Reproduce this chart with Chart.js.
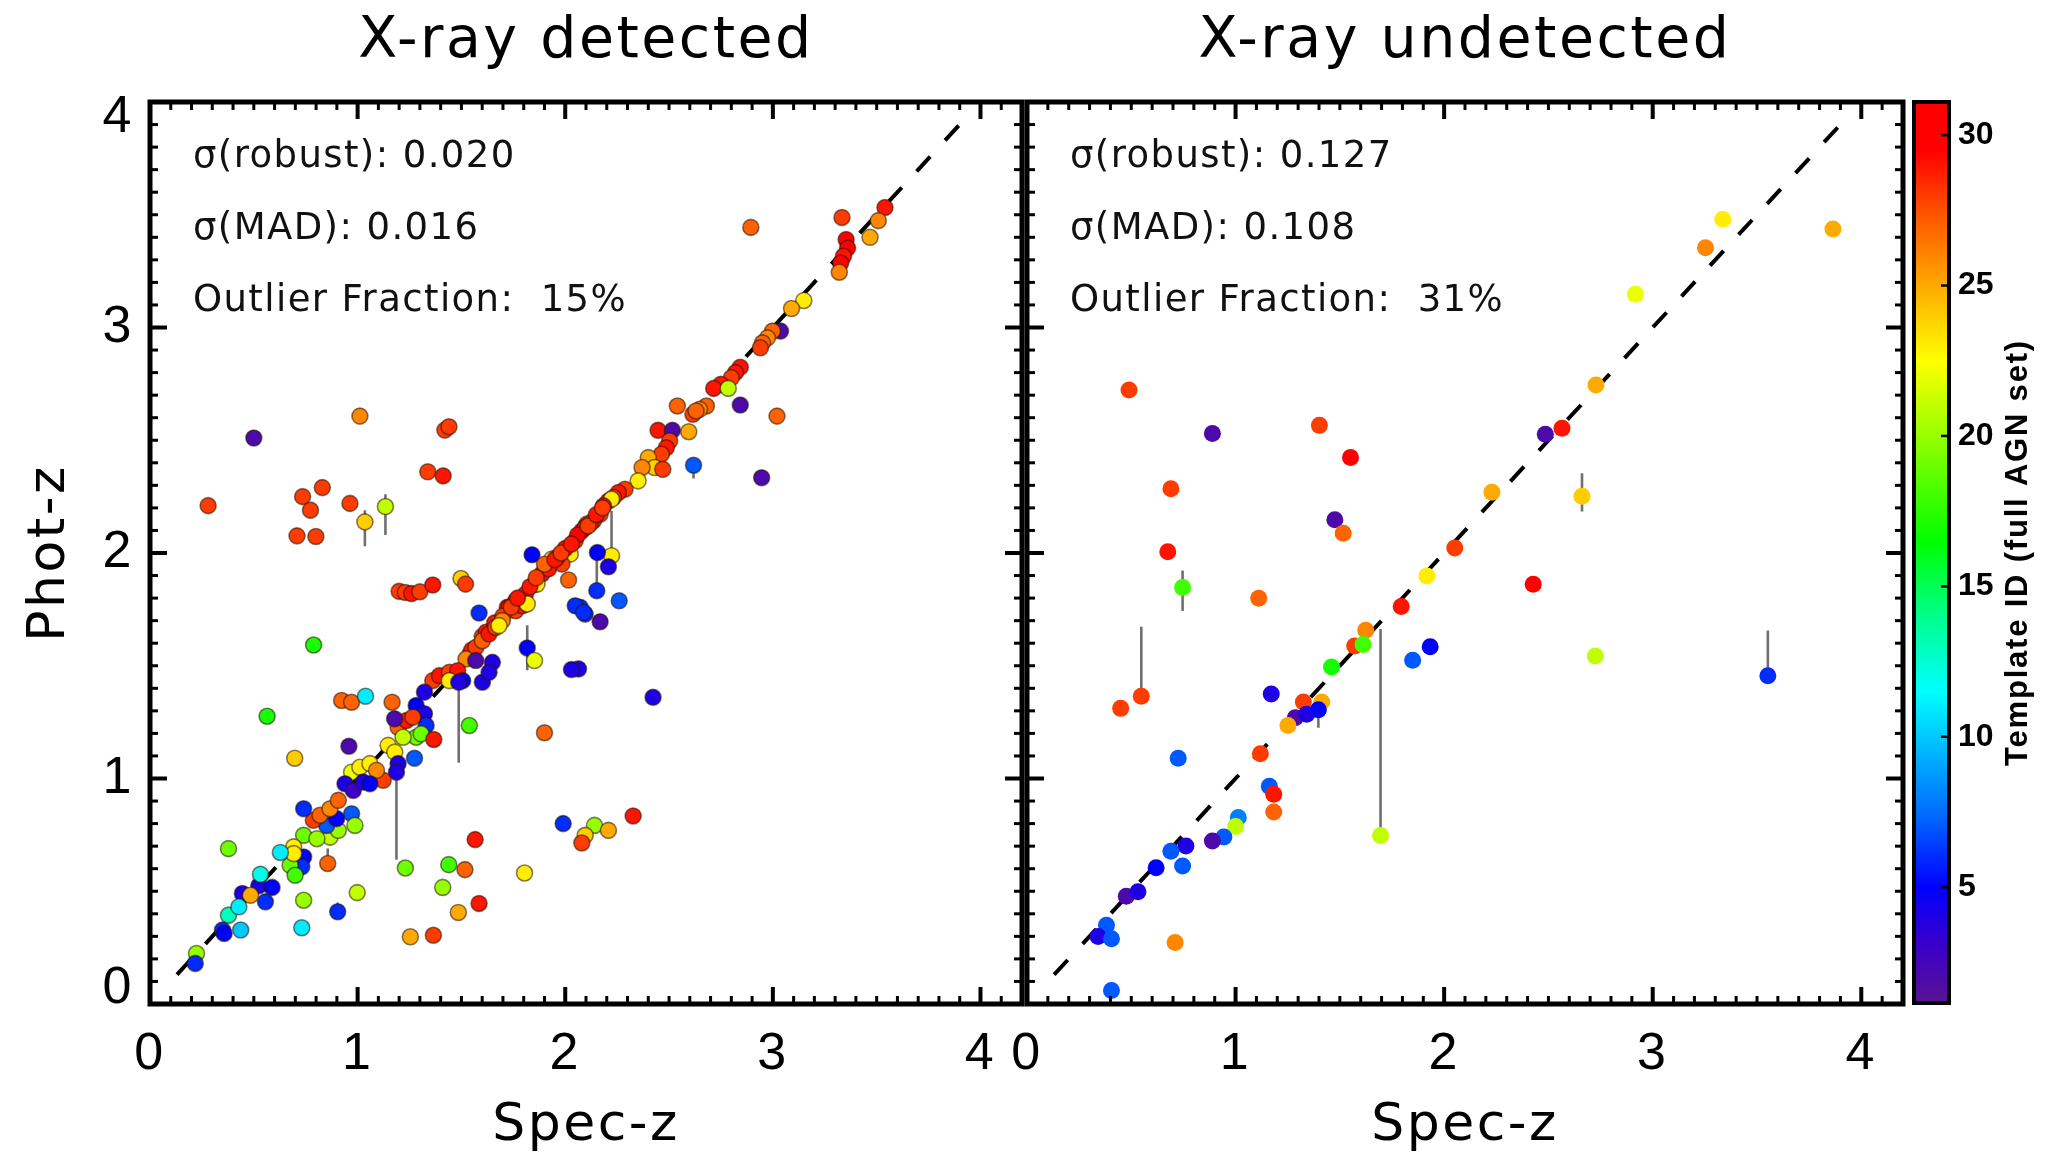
<!DOCTYPE html>
<html><head><meta charset="utf-8">
<script src="https://cdn.jsdelivr.net/npm/chart.js@4.4.0/dist/chart.umd.min.js"></script>
<style>
html,body{margin:0;padding:0;background:#fff;}
#wrap{position:relative;width:2047px;height:1152px;overflow:hidden;background:#fff;}
canvas{position:absolute;top:0;}
</style></head><body>
<div id="wrap">
<canvas id="c1" width="1045" height="1152" style="left:0px"></canvas>
<canvas id="c2" width="1072" height="1152" style="left:975px"></canvas>
<canvas id="c3" width="147" height="1152" style="left:1900px"></canvas>
</div>
<script>
// ---------------- DATA ----------------
const panelTitles = ['X-ray detected', 'X-ray undetected'];
const xTickVals = [0, 1, 2, 3, 4];
const yTickVals = [0, 1, 2, 3, 4];
const cbTickVals = [5, 10, 15, 20, 25, 30];
const identityLine = [0.13, 3.9];

const statsDet = ['σ(robust): 0.020', 'σ(MAD): 0.016', 'Outlier Fraction:  15%'];
const statsUnd = ['σ(robust): 0.127', 'σ(MAD): 0.108', 'Outlier Fraction:  31%'];

// X-ray detected: spec-z, phot-z, template ID
const specZDet = [
 0.28,0.50,0.735,0.83,0.773,0.963,0.708,0.799,1.011,1.035,1.134,1.42,1.44,1.338,1.412,
 1.20,1.23,1.26,1.30,1.362,1.498,1.52,1.84,1.585,2.016,
 2.894,3.333,3.353,3.36,3.34,3.327,3.32,3.54,3.508,3.468,3.149,3.09,3.037,
 2.998,2.974,2.95,2.94,2.843,2.82,2.80,2.75,2.715,2.785,2.843,3.02,2.54,
 2.68,2.647,2.615,2.63,2.447,2.516,2.595,2.503,2.487,2.463,2.40,2.43,2.47,2.37,
 2.618,2.946,2.351,2.288,2.256,2.232,2.208,2.223,2.184,2.168,2.136,2.104,2.08,
 2.223,2.155,2.208,2.152,2.26,2.096,2.072,2.168,2.064,2.423,2.327,2.141,2.208,2.096,2.08,
 2.096,2.048,2.024,1.984,1.936,1.888,1.857,1.864,1.809,1.809,1.761,1.721,
 2.0,1.96,1.92,1.90,2.06,2.12,2.048,2.088,1.729,1.761,1.793,1.817,
 1.54,1.55,1.60,1.62,1.66,1.70,1.74,1.77,1.83,1.86,1.95,1.98,2.03,2.11,2.15,2.18,
 1.57,1.601,1.633,1.665,1.697,1.681,1.522,1.569,1.601,1.649,1.633,
 1.362,1.394,1.442,1.482,1.442,1.506,1.487,1.322,1.282,1.322,1.33,1.282,1.306,
 1.195,1.235,1.266,1.178,1.219,1.147,1.179,1.195,1.187,1.123,
 0.971,1.011,1.059,1.091,0.939,0.979,1.027,1.059,0.971,0.867,0.907,0.851,0.899,
 0.787,0.819,0.867,0.907,0.74,0.804,0.74,0.731,0.675,0.699,0.692,0.692,0.628,
 0.445,0.524,0.588,0.556,0.484,0.532,0.378,0.428,0.437,0.349,0.357,0.224,0.218,
 0.788,0.564,0.697,0.958,0.923,0.971,1.038,1.166,1.538,1.90,2.03,1.817,1.852,1.99,
 1.566,1.439,1.517,1.41,1.804,1.585,1.485,1.254,1.365,1.23,0.998,0.74,0.904,0.731,
 0.378,0.856,0.74,1.274,1.367,0.987
];
const photZDet = [
 2.21,2.51,2.25,2.29,2.19,2.22,2.076,2.073,2.607,2.138,2.206,2.545,2.56,2.36,2.342,
 1.83,1.825,1.82,1.828,1.858,1.887,1.862,1.992,1.734,1.88,
 3.444,3.488,3.39,3.352,3.316,3.286,3.245,3.532,3.474,3.40,3.12,3.084,2.984,
 2.984,2.954,2.932,2.91,2.824,2.80,2.777,2.748,2.73,2.73,2.656,2.607,2.652,
 2.652,2.637,2.615,2.63,2.544,2.544,2.538,2.497,2.467,2.438,2.423,2.379,2.371,2.379,
 2.389,2.334,2.32,2.283,2.268,2.246,2.231,2.239,2.209,2.172,2.143,2.128,2.098,
 1.988,2.002,1.939,1.833,1.788,1.729,1.759,1.695,1.486,1.36,0.834,0.792,0.77,0.748,0.714,
 2.113,2.054,1.995,1.951,1.973,1.907,1.862,1.862,1.818,1.774,1.788,1.759,
 2.02,1.98,1.93,1.95,2.08,2.13,1.766,1.737,1.759,1.744,1.766,1.774,
 1.55,1.57,1.63,1.65,1.69,1.72,1.76,1.80,1.85,1.89,1.97,2.0,2.04,2.12,2.17,2.2,
 1.582,1.611,1.641,1.67,1.70,1.678,1.53,1.523,1.427,1.515,1.471,
 1.434,1.456,1.471,1.478,1.434,1.434,1.427,1.383,1.324,1.287,1.235,1.183,1.198,
 1.227,1.257,1.272,1.265,1.183,1.147,1.117,1.066,1.028,0.992,
 1.028,1.05,1.066,1.036,0.977,0.947,0.984,0.977,0.844,0.74,0.77,0.792,0.822,
 0.815,0.837,0.866,0.903,0.748,0.733,0.652,0.608,0.615,0.571,0.697,0.667,0.672,
 0.49,0.524,0.517,0.453,0.482,0.575,0.394,0.431,0.328,0.328,0.313,0.224,0.18,
 1.592,1.276,1.09,1.143,1.346,1.338,1.365,1.338,1.235,1.203,1.483,1.579,1.523,0.80,
 0.729,0.618,0.596,0.517,0.581,0.446,0.406,0.298,0.305,0.603,0.494,0.46,0.409,0.338,
 0.689,0.623,0.866,1.09,1.173,0.792
];
const tmplDet = [
 28,2,28,28,28,28,28,28,26,24,21,28,28,28,29,
 28,28,29,28,29,24,28,5,6,27,
 27,28,30,30,29,30,26,29,26,25,23,25,2,
 27,26,27,28,29,29,28,29,29,21,2,27,27,
 27,26,28,27,29,2,25,28,29,28,25,24,28,26,
 7,2,23,28,29,28,29,23,29,28,29,28,29,
 23,5,4,6,7,6,6,2,4,4,29,20,25,24,28,
 29,28,23,28,23,29,28,23,29,23,28,29,
 29,28,29,27,30,28,6,6,29,28,29,23,
 28,29,28,29,29,28,28,29,29,28,29,28,29,28,29,28,
 28,27,29,28,26,23,26,2,4,4,4,
 28,29,28,29,23,5,4,4,5,4,6,19,19,
 27,29,28,2,21,23,23,4,4,28,
 22,23,23,26,4,3,4,5,7,21,20,7,5,
 28,27,26,27,19,20,5,6,19,18,23,23,11,
 4,4,5,6,25,12,13,11,10,6,5,20,6,
 17,17,24,2,27,27,11,27,18,27,4,5,22,6,
 29,18,27,20,23,29,25,25,28,19,21,20,6,11,
 19,27,6,7,29,20
];
// error bars (detected): x, low, high
const errXDet  = [1.035, 1.134, 1.187, 1.487, 1.817, 2.152, 2.223, 0.856, 2.618, 0.904];
const errLoDet = [2.03,  2.08,  0.64,  1.07,  1.48,  1.833, 1.996, 0.623, 2.33,  0.409];
const errHiDet = [2.19,  2.26,  1.028, 1.427, 1.68,  1.98,  2.187, 0.69,  2.389, 0.45];

// X-ray undetected
const specZUnd = [
 0.489,0.889,1.402,1.551,0.69,1.476,1.516,0.675,0.746,1.111,2.051,1.917,1.794,1.624,1.571,1.611,
 1.46,1.849,1.933,0.548,0.449,1.171,1.325,1.413,1.286,1.341,1.397,1.251,1.119,0.725,1.162,1.183,
 1.183,1.013,1.0,0.944,0.889,0.762,0.69,0.746,0.619,0.476,0.532,0.381,0.341,0.405,0.71,0.405,
 1.695,3.336,3.253,3.864,2.917,2.728,2.485,2.565,2.229,2.661,2.427,2.725,3.552
];
const photZUnd = [
 2.723,2.53,2.566,2.424,2.285,2.147,2.088,2.006,1.847,1.799,2.022,1.898,1.763,1.657,1.588,1.594,
 1.494,1.524,1.584,1.365,1.311,1.375,1.339,1.339,1.269,1.285,1.305,1.235,1.11,1.09,0.966,0.93,
 0.851,0.827,0.787,0.741,0.723,0.701,0.677,0.612,0.604,0.478,0.498,0.349,0.299,0.289,0.273,0.06,
 0.747,3.48,3.354,3.437,3.148,2.745,2.527,2.553,2.269,2.252,1.861,1.543,1.456
];
const tmplUnd = [
 28,2,28,30,28,2,27,29,18,27,28,23,29,26,28,18,
 17,7,5,28,28,4,28,25,2,4,5,25,28,7,7,29,
 27,8,21,7,2,4,7,7,5,2,4,7,4,7,26,7,
 21,23,26,25,22,25,2,29,25,24,30,21,6
];
const errXUnd  = [0.746, 0.548, 1.397, 1.695, 2.661, 3.552];
const errLoUnd = [1.743, 1.365, 1.225, 0.747, 2.184, 1.456];
const errHiUnd = [1.922, 1.673, 1.305, 1.663, 2.354, 1.656];

// colour scale of the template ID (rainbow)
const cbRange = [1.15, 31.1];
const colorStops = [
 [1.0, [92, 20, 140]], [3.0, [60, 0, 200]], [5.0, [0, 0, 255]], [7.5, [0, 110, 255]],
 [10.0, [0, 200, 255]], [11.5, [0, 255, 255]], [14.0, [0, 255, 140]], [16.5, [0, 255, 0]],
 [20.0, [150, 255, 0]], [22.5, [255, 255, 0]], [25.0, [255, 170, 0]], [27.5, [255, 80, 0]],
 [29.5, [255, 0, 0]], [31.5, [255, 0, 0]]
];

// ---------------- helpers ----------------
function tmplRGB(v) {
  if (v <= colorStops[0][0]) return colorStops[0][1];
  for (let i = 1; i < colorStops.length; i++) {
    const [v1, c1] = colorStops[i];
    const [v0, c0] = colorStops[i - 1];
    if (v <= v1) {
      const t = (v - v0) / (v1 - v0);
      return c0.map((c, k) => Math.round(c + (c1[k] - c) * t));
    }
  }
  return colorStops[colorStops.length - 1][1];
}
function tmplColor(v) { const c = tmplRGB(v); return `rgb(${c[0]},${c[1]},${c[2]})`; }

const SANS = '"DejaVu Sans", sans-serif';
const NARROW = '"Liberation Sans Narrow", "Liberation Sans", sans-serif';
const XMAX = 4.2, YMAX = 4;

const spacing = {
  id: 'spacing',
  beforeDraw(chart) { chart.ctx.letterSpacing = '2.5px'; },
  afterDraw(chart) { chart.ctx.letterSpacing = '0px'; }
};

function panelDecor(lines) {
  return {
    id: 'panelDecor',
    afterDatasetsDraw(chart) {
      const {ctx, chartArea: a, scales: {x, y}} = chart;
      ctx.save();
      ctx.strokeStyle = '#000';
      ctx.lineCap = 'butt';
      const seg = (x0, y0, x1, y1, w) => { ctx.lineWidth = w; ctx.beginPath(); ctx.moveTo(x0, y0); ctx.lineTo(x1, y1); ctx.stroke(); };
      for (let k = 0; k <= Math.round(XMAX * 10); k++) {
        const v = k / 10, major = k % 10 === 0;
        const px = x.getPixelForValue(v), L = major ? 17 : 8, w = major ? 4 : 3;
        seg(px, a.bottom, px, a.bottom - L, w);
        seg(px, a.top, px, a.top + L, w);
      }
      for (let k = 0; k <= Math.round(YMAX * 10); k++) {
        const v = k / 10, major = k % 10 === 0;
        const py = y.getPixelForValue(v), L = major ? 17 : 8, w = major ? 4 : 3;
        seg(a.left, py, a.left + L, py, w);
        seg(a.right, py, a.right - L, py, w);
      }
      ctx.lineWidth = 5;
      ctx.strokeRect(a.left, a.top, a.right - a.left, a.bottom - a.top);
      ctx.fillStyle = '#111';
      ctx.font = '37px ' + SANS;
      ctx.letterSpacing = '1.4px';
      ctx.textBaseline = 'middle';
      ctx.textAlign = 'left';
      lines.forEach((t, i) => ctx.fillText(t, a.left + 43, a.top + 55 + i * 72));
      ctx.restore();
    }
  };
}

// nudge the layout padding until the plot area sits where wanted (layout only)
function fitArea(chart, left, right) {
  for (let i = 0; i < 5; i++) {
    const a = chart.chartArea;
    const dl = left - a.left, dr = a.right - right;
    if (Math.abs(dl) + Math.abs(dr) < 0.3) break;
    const p = chart.options.layout.padding;
    chart.options.layout.padding = {left: p.left + dl, right: p.right + dr, top: p.top, bottom: p.bottom};
    chart.update();
  }
}

function buildPanel(canvasId, title, sx, sy, tm, ex, elo, ehi, outlined, showY, area, stats) {
  const pts = sx.map((v, i) => ({x: v, y: sy[i]}));
  const cols = tm.map(tmplColor);
  const errData = [];
  ex.forEach((v, i) => { errData.push({x: v, y: elo[i]}, {x: v, y: ehi[i]}, {x: v, y: null}); });
  const cv = document.getElementById(canvasId);
  const chart = new Chart(cv, {
    type: 'scatter',
    data: {
      datasets: [
        {
          label: 'points', data: pts, order: 0,
          pointRadius: outlined ? 8 : 8.5, pointHoverRadius: 8,
          pointBackgroundColor: cols, backgroundColor: cols,
          pointBorderColor: outlined ? 'rgba(40,20,10,0.55)' : cols,
          pointBorderWidth: outlined ? 1.6 : 0, borderWidth: outlined ? 1.6 : 0
        },
        {
          type: 'line', label: 'one-to-one', order: 1,
          data: [{x: identityLine[0], y: identityLine[0]}, {x: identityLine[1], y: identityLine[1]}],
          borderColor: '#000', borderWidth: 4, borderDash: [20, 22], pointRadius: 0, fill: false
        },
        {
          type: 'line', label: 'errors', order: 2, data: errData, spanGaps: false,
          borderColor: '#707070', borderWidth: 2.6, pointRadius: 0, fill: false
        }
      ]
    },
    options: {
      responsive: false, animation: false, events: [],
      layout: {padding: {left: showY ? 0 : area[0], right: cv.width - area[1], top: 0, bottom: 0}},
      plugins: {
        legend: {display: false}, tooltip: {enabled: false},
        title: {display: true, text: title, fullSize: false, color: '#000',
          font: {family: SANS, size: 57, weight: 'normal', lineHeight: 1.2}, padding: {top: 8, bottom: 25.6}}
      },
      scales: {
        x: {
          type: 'linear', min: 0, max: XMAX,
          afterBuildTicks: s => { s.ticks = xTickVals.map(v => ({value: v})); },
          afterFit: s => { s.height = 148; s.paddingLeft = 0; s.paddingRight = 0; },
          grid: {display: false, drawTicks: false}, border: {display: false},
          ticks: {color: '#000', padding: 19, maxRotation: 0, autoSkip: false, font: {family: NARROW, size: 52}},
          title: {display: true, text: 'Spec-z', color: '#000', font: {family: SANS, size: 52, lineHeight: 1.0}, padding: {top: 0, bottom: 0}}
        },
        y: {
          type: 'linear', min: 0, max: YMAX, display: showY,
          afterBuildTicks: s => { s.ticks = yTickVals.map(v => ({value: v})); },
          afterFit: s => { s.width = showY ? area[0] : 0; s.paddingTop = 0; s.paddingBottom = 0; },
          grid: {display: false, drawTicks: false}, border: {display: false},
          ticks: {color: '#000', padding: 16, autoSkip: false, font: {family: NARROW, size: 52, lineHeight: 0.6},
            callback: v => v === yTickVals[0] ? [String(v), ''] : (v === yTickVals[yTickVals.length - 1] ? ['', String(v)] : String(v))},
          title: {display: true, text: 'Phot-z', color: '#000', font: {family: SANS, size: 52}, padding: {top: 19, bottom: 0}}
        }
      }
    },
    plugins: [spacing, panelDecor(stats)]
  });
  fitArea(chart, area[0], area[1]);
  return chart;
}

// plot areas in canvas pixels: [left, right]
buildPanel('c1', panelTitles[0], specZDet, photZDet, tmplDet, errXDet, errLoDet, errHiDet, true, true, [150, 1022], statsDet);
buildPanel('c2', panelTitles[1], specZUnd, photZUnd, tmplUnd, errXUnd, errLoUnd, errHiUnd, false, false, [52, 928], statsUnd);

// ---------------- colour bar ----------------
const cbDecor = {
  id: 'cbDecor',
  afterDatasetsDraw(chart) {
    const {ctx, chartArea: a, scales: {y}} = chart;
    ctx.save();
    ctx.strokeStyle = '#000';
    ctx.lineWidth = 2.5;
    cbTickVals.forEach(v => {
      const py = y.getPixelForValue(v);
      ctx.beginPath(); ctx.moveTo(a.right - 8, py); ctx.lineTo(a.right, py); ctx.stroke();
    });
    ctx.lineWidth = 4;
    ctx.strokeRect(a.left, a.top, a.right - a.left, a.bottom - a.top);
    ctx.translate(118, (a.top + a.bottom) / 2);
    ctx.rotate(-Math.PI / 2);
    ctx.fillStyle = '#000';
    ctx.font = 'bold 31px "Liberation Sans", sans-serif';
    ctx.letterSpacing = '1.8px';
    ctx.textAlign = 'center';
    ctx.textBaseline = 'middle';
    ctx.fillText('Template ID (full AGN set)', 0, 0);
    ctx.restore();
  }
};
new Chart(document.getElementById('c3'), {
  type: 'bar',
  data: {
    labels: ['Template ID'],
    datasets: [{
      data: [[cbRange[0], cbRange[1]]],
      barPercentage: 1, categoryPercentage: 1, borderWidth: 0, borderSkipped: false,
      backgroundColor: (ctx) => {
        const ch = ctx.chart, a = ch.chartArea;
        if (!a) return '#888';
        const ys = ch.scales.y;
        const p0 = ys.getPixelForValue(cbRange[0]), p1 = ys.getPixelForValue(cbRange[1]);
        const g = ch.ctx.createLinearGradient(0, p0, 0, p1);
        colorStops.forEach(([v]) => {
          const t = (v - cbRange[0]) / (cbRange[1] - cbRange[0]);
          if (t >= 0 && t <= 1) g.addColorStop(t, tmplColor(v));
        });
        g.addColorStop(0, tmplColor(cbRange[0]));
        g.addColorStop(1, tmplColor(cbRange[1]));
        return g;
      }
    }]
  },
  options: {
    responsive: false, animation: false, events: [],
    layout: {padding: {left: 14, right: 0, top: 102, bottom: 149}},
    plugins: {legend: {display: false}, tooltip: {enabled: false}},
    scales: {
      x: {display: false},
      y: {
        position: 'right', min: cbRange[0], max: cbRange[1],
        afterBuildTicks: s => { s.ticks = cbTickVals.map(v => ({value: v})); },
        afterFit: s => { s.width = 98; },
        grid: {display: false, drawTicks: false}, border: {display: false},
        ticks: {color: '#000', padding: 9, font: {family: '"Liberation Sans", sans-serif', size: 32, weight: 'bold'}}
      }
    }
  },
  plugins: [cbDecor]
});
</script>
</body></html>
